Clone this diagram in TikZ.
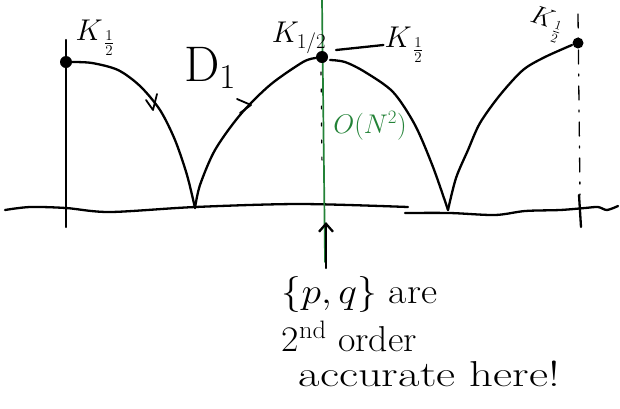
\RequirePackage{fix-cm}
\documentclass[tikz,border=0pt]{standalone}
\usepackage{amsmath}
\usepackage{fontspec}
\usetikzlibrary{arrows.meta}
\definecolor{pen}{RGB}{35,130,55}
\begin{document}
\begin{tikzpicture}[x=1pt,y=-1pt, line cap=round, line join=round,
  ink/.style={line width=2.3pt, black},
  grn/.style={line width=1.7pt, draw=pen},
  dotnode/.style={circle, fill=black, inner sep=0pt, minimum size=12pt},
  lab/.style={font=\fontsize{30}{32}\selectfont, inner sep=1pt},
  note/.style={font=\fontsize{36}{38}\selectfont, anchor=west}]
\useasboundingbox (0,0) rectangle (620,408);
% axis
\draw[ink] plot[smooth] coordinates {(5,210) (30,207) (66,208) (110,212) (195,207) (300,204) (408,207)};
\draw[ink] plot[smooth] coordinates {(405,213) (450,213) (495,215) (525,211) (560,210) (585,208) (598,207) (607,210) (618,206)};
% left tick / vertical line
\draw[ink] (66,40) -- (66,227);
% green vertical line
\draw[grn] (322,0) -- (325,262);
\draw[ink, line width=1.2pt, dash pattern=on 3pt off 14pt] (321,72) -- (322,170);
% dash-dot line on the right
\draw[ink, line width=1.3pt, dash pattern=on 14pt off 10pt on 2pt off 10pt] (578,14) -- (580,195);
\draw[ink] (579,195) -- (581,227);
% dots
\node[dotnode] (k1) at (66,62) {};
\node[dotnode] (k2) at (322,57) {};
\node[dotnode, minimum size=11pt] (k3) at (578,43) {};
% arches
\draw[ink] plot[smooth] coordinates {(71,62) (92,63) (118,70) (140,86) (160,110) (175,140) (187,175) (195,208)};
\draw[ink] plot[smooth] coordinates {(195,208) (200,185) (215,150) (240,115) (270,85) (303,62) (316,58)};
\draw[ink] plot[smooth] coordinates {(330,60) (345,62) (365,72) (393,92) (415,125) (433,167) (448,210)};
\draw[ink] plot[smooth] coordinates {(448,210) (456,178) (468,150) (480,123) (500,95) (523,70) (545,57) (572,45)};
% labels
\node[lab] (l1) at (95,38) {$K_{\,\frac12}$};
\node[lab] (l2) at (299,38) {$K_{1/2}$};
\node[lab] (l3) at (404,45) {$K_{\,\frac12}$};
\node[lab, rotate=-18, font=\fontsize{26}{28}\selectfont] (l4) at (546,24) {$K_{\,\frac12}$};
\coordinate (c2) at (336,50);
\draw[ink] (c2) -- (l3.west);
% D1 and its marks
\node[font=\fontsize{50}{50}\selectfont] (d1) at (210,68) {D$_1$};
\draw[ink, line width=1.8pt] (146,100) -- (153,110) -- (157,94);
\draw[ink, line width=1.8pt] (237,99) -- (251,105) -- (240,113);
% green order label
\node[text=pen, font=\fontsize{27}{29}\selectfont] (on) at (370,126) {$O(N^2)$};
% arrow
\coordinate (ab) at (326,268);
\coordinate (at) at (326,222);
\draw[ink, -{Straight Barb[length=8pt,width=14pt]}] (ab) -- (at);
% note
\node[note, xscale=1.1] (n1) at (278,294) {$\{p,q\}$ are};
\node[note, xscale=1.05] (n2) at (278,336) {2\textsuperscript{nd} order};
\node[note, xscale=1.3] (n3) at (294,374) {accurate here!};
\end{tikzpicture}
\end{document}
